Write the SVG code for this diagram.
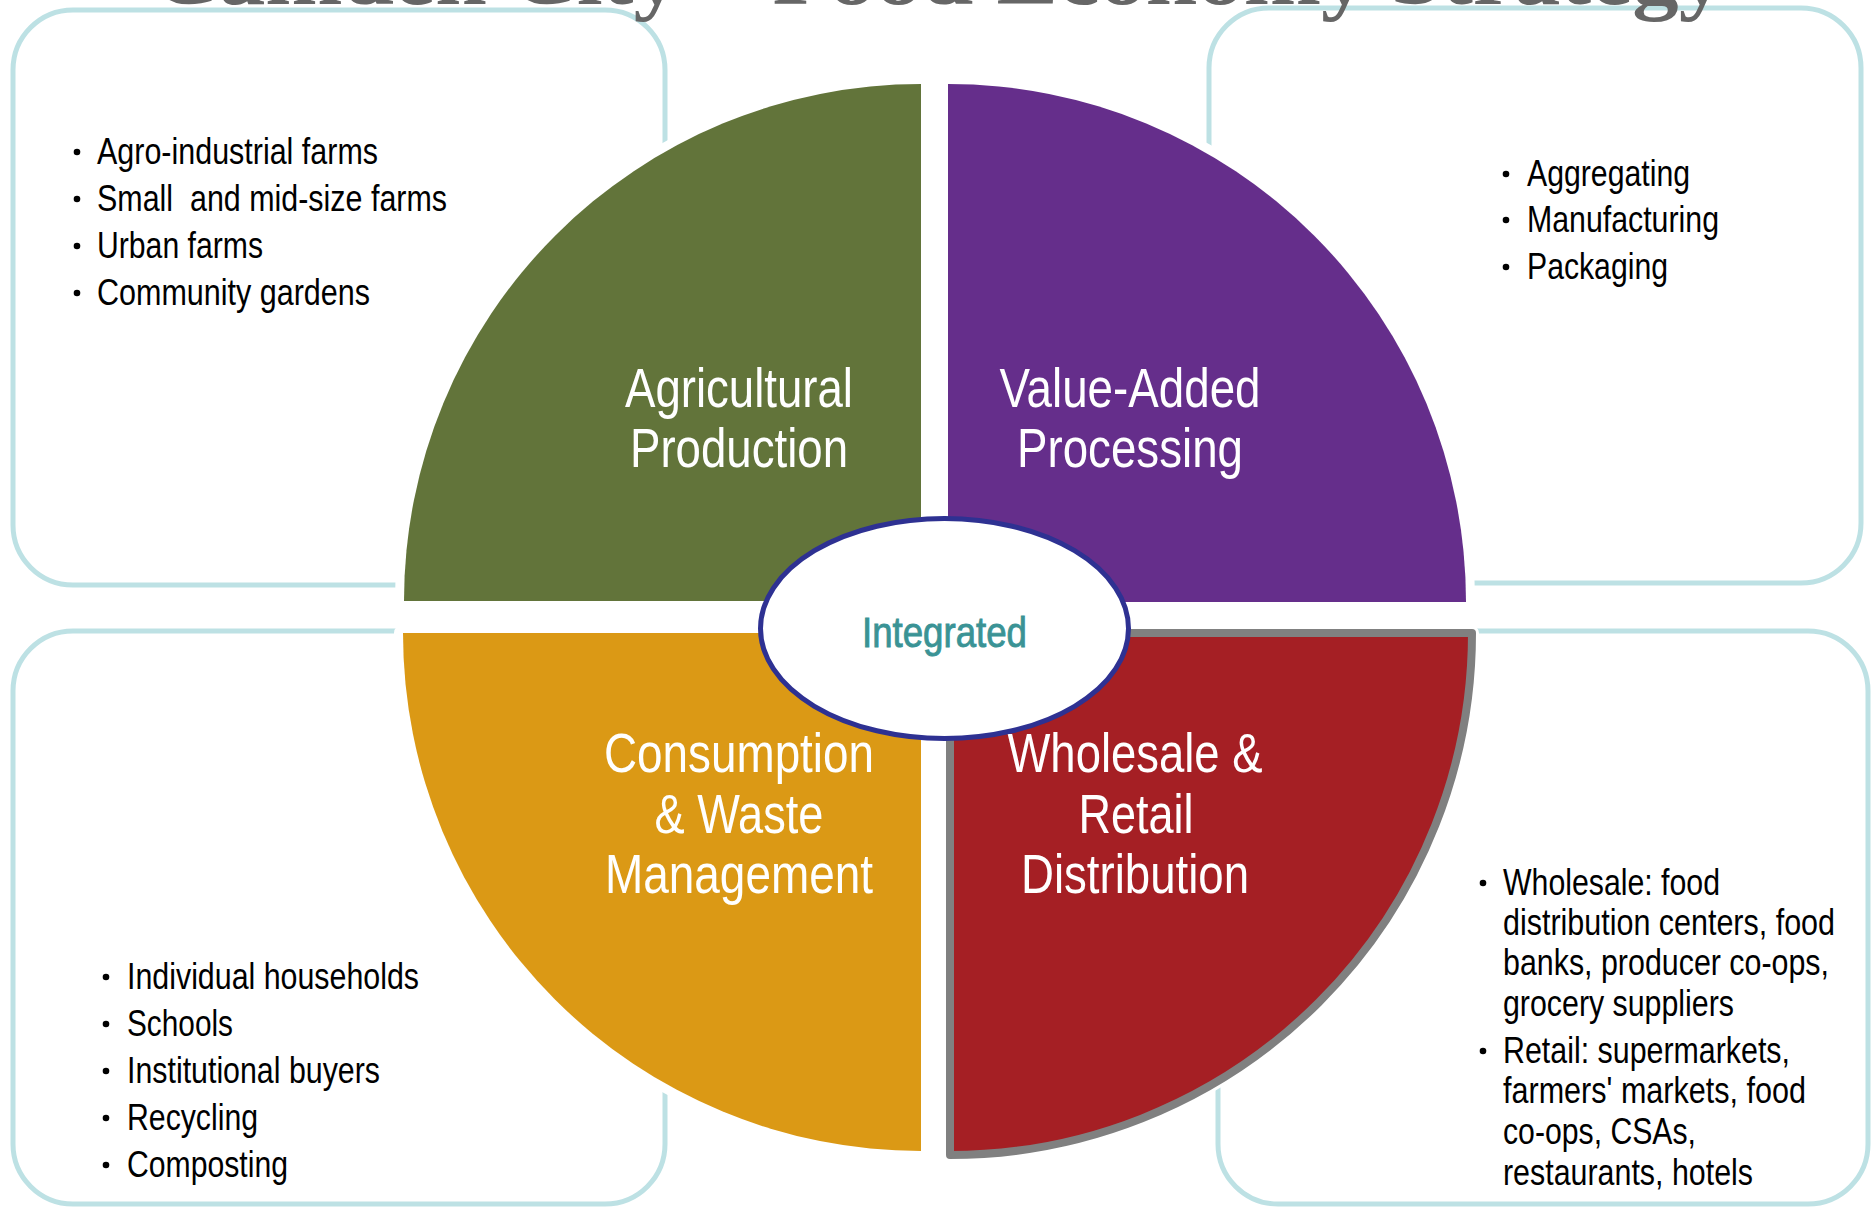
<svg xmlns="http://www.w3.org/2000/svg" width="1875" height="1207" viewBox="0 0 1875 1207">
<style>
.box{fill:none;stroke:#BDE1E4;stroke-width:5}
.halo{fill:#fff;stroke:#fff;stroke-width:18;stroke-linejoin:round}
.ql{font-family:'Liberation Sans Narrow','Liberation Sans',Arial,sans-serif;font-size:56px;fill:#fff;text-anchor:middle}
.bt{font-family:'Liberation Sans Narrow','Liberation Sans',Arial,sans-serif;font-size:36px;fill:#000}
.dot{fill:#000}
</style>
<rect width="1875" height="1207" fill="#fff"/>
<g id="box-top-left"><rect class="box" x="13" y="10" width="652" height="575" rx="60"/>
<circle class="dot" cx="77" cy="152" r="3.3"/><text class="bt" x="97" y="164" textLength="281" lengthAdjust="spacingAndGlyphs">Agro-industrial farms</text>
<circle class="dot" cx="77" cy="199" r="3.3"/><text class="bt" x="97" y="211" textLength="350" lengthAdjust="spacingAndGlyphs" xml:space="preserve">Small  and mid-size farms</text>
<circle class="dot" cx="77" cy="246" r="3.3"/><text class="bt" x="97" y="258" textLength="166" lengthAdjust="spacingAndGlyphs">Urban farms</text>
<circle class="dot" cx="77" cy="293" r="3.3"/><text class="bt" x="97" y="305" textLength="273" lengthAdjust="spacingAndGlyphs">Community gardens</text>
</g>
<g id="box-top-right"><rect class="box" x="1209" y="8" width="652" height="575" rx="60"/>
<circle class="dot" cx="1506" cy="174" r="3.3"/><text class="bt" x="1527" y="186" textLength="163" lengthAdjust="spacingAndGlyphs">Aggregating</text>
<circle class="dot" cx="1506" cy="220" r="3.3"/><text class="bt" x="1527" y="232" textLength="192" lengthAdjust="spacingAndGlyphs">Manufacturing</text>
<circle class="dot" cx="1506" cy="267" r="3.3"/><text class="bt" x="1527" y="279" textLength="141" lengthAdjust="spacingAndGlyphs">Packaging</text>
</g>
<g id="box-bottom-left"><rect class="box" x="13" y="631" width="652" height="573" rx="60"/>
<circle class="dot" cx="106" cy="977" r="3.3"/><text class="bt" x="127" y="989" textLength="292" lengthAdjust="spacingAndGlyphs">Individual households</text>
<circle class="dot" cx="106" cy="1024" r="3.3"/><text class="bt" x="127" y="1036" textLength="106" lengthAdjust="spacingAndGlyphs">Schools</text>
<circle class="dot" cx="106" cy="1071" r="3.3"/><text class="bt" x="127" y="1083" textLength="253" lengthAdjust="spacingAndGlyphs">Institutional buyers</text>
<circle class="dot" cx="106" cy="1118" r="3.3"/><text class="bt" x="127" y="1130" textLength="131" lengthAdjust="spacingAndGlyphs">Recycling</text>
<circle class="dot" cx="106" cy="1165" r="3.3"/><text class="bt" x="127" y="1177" textLength="161" lengthAdjust="spacingAndGlyphs">Composting</text>
</g>
<g id="box-bottom-right"><rect class="box" x="1218" y="631" width="650" height="573" rx="60"/>
<circle class="dot" cx="1483" cy="883" r="3.3"/><text class="bt" x="1503" y="895" textLength="217" lengthAdjust="spacingAndGlyphs">Wholesale: food</text>
<text class="bt" x="1503" y="935" textLength="332" lengthAdjust="spacingAndGlyphs">distribution centers, food</text>
<text class="bt" x="1503" y="975" textLength="326" lengthAdjust="spacingAndGlyphs">banks, producer co-ops,</text>
<text class="bt" x="1503" y="1016" textLength="231" lengthAdjust="spacingAndGlyphs">grocery suppliers</text>
<circle class="dot" cx="1483" cy="1051" r="3.3"/><text class="bt" x="1503" y="1063" textLength="287" lengthAdjust="spacingAndGlyphs">Retail: supermarkets,</text>
<text class="bt" x="1503" y="1103" textLength="303" lengthAdjust="spacingAndGlyphs">farmers' markets, food</text>
<text class="bt" x="1503" y="1144" textLength="193" lengthAdjust="spacingAndGlyphs">co-ops, CSAs,</text>
<text class="bt" x="1503" y="1185" textLength="250" lengthAdjust="spacingAndGlyphs">restaurants, hotels</text>
</g>
<g id="halos">
<path class="halo" d="M921 601V84A517 517 0 0 0 404 601Z"/>
<path class="halo" d="M948 602H1466A518 518 0 0 0 948 84Z"/>
<path class="halo" d="M921 633H403A518 518 0 0 0 921 1151Z"/>
<path class="halo" style="stroke-width:14" d="M950 633H1472A522 522 0 0 1 950 1155Z"/>
</g>
<g id="agricultural-production">
<path d="M921 601V84A517 517 0 0 0 404 601Z" fill="#62743A"/>
<text class="ql" x="739" y="407" textLength="228" lengthAdjust="spacingAndGlyphs">Agricultural</text>
<text class="ql" x="739" y="467" textLength="218" lengthAdjust="spacingAndGlyphs">Production</text>
</g>
<g id="value-added-processing">
<path d="M948 602H1466A518 518 0 0 0 948 84Z" fill="#652E8B"/>
<text class="ql" x="1130" y="407" textLength="261" lengthAdjust="spacingAndGlyphs">Value-Added</text>
<text class="ql" x="1130" y="467" textLength="226" lengthAdjust="spacingAndGlyphs">Processing</text>
</g>
<g id="consumption-waste">
<path d="M921 633H403A518 518 0 0 0 921 1151Z" fill="#DB9915"/>
<text class="ql" x="739" y="772" textLength="270" lengthAdjust="spacingAndGlyphs">Consumption</text>
<text class="ql" x="739" y="833" textLength="169" lengthAdjust="spacingAndGlyphs">&amp; Waste</text>
<text class="ql" x="739" y="893" textLength="268" lengthAdjust="spacingAndGlyphs">Management</text>
</g>
<g id="wholesale-retail">
<path d="M950 633H1472A522 522 0 0 1 950 1155Z" fill="#A51F24" stroke="#808080" stroke-width="8" stroke-linejoin="round"/>
<text class="ql" x="1135" y="772" textLength="255" lengthAdjust="spacingAndGlyphs">Wholesale &amp;</text>
<text class="ql" x="1136" y="833" textLength="115" lengthAdjust="spacingAndGlyphs">Retail</text>
<text class="ql" x="1135" y="893" textLength="228" lengthAdjust="spacingAndGlyphs">Distribution</text>
</g>
<g id="integrated">
<ellipse cx="944.5" cy="628.5" rx="184" ry="110" fill="#fff" stroke="#2E3192" stroke-width="5"/>
<text x="944.5" y="647" font-family="'Liberation Sans Narrow','Liberation Sans',Arial,sans-serif" font-size="42" fill="#3A9395" stroke="#3A9395" stroke-width="0.9" text-anchor="middle" textLength="165" lengthAdjust="spacingAndGlyphs">Integrated</text>
</g>
<g id="connectors"/>
<g id="title">
<text x="152" y="4" font-family="'Liberation Serif','Times New Roman',serif" font-weight="bold" font-size="85" fill="#666666" textLength="1573" lengthAdjust="spacingAndGlyphs">Camden City – Food Economy Strategy</text>
</g>
</svg>
